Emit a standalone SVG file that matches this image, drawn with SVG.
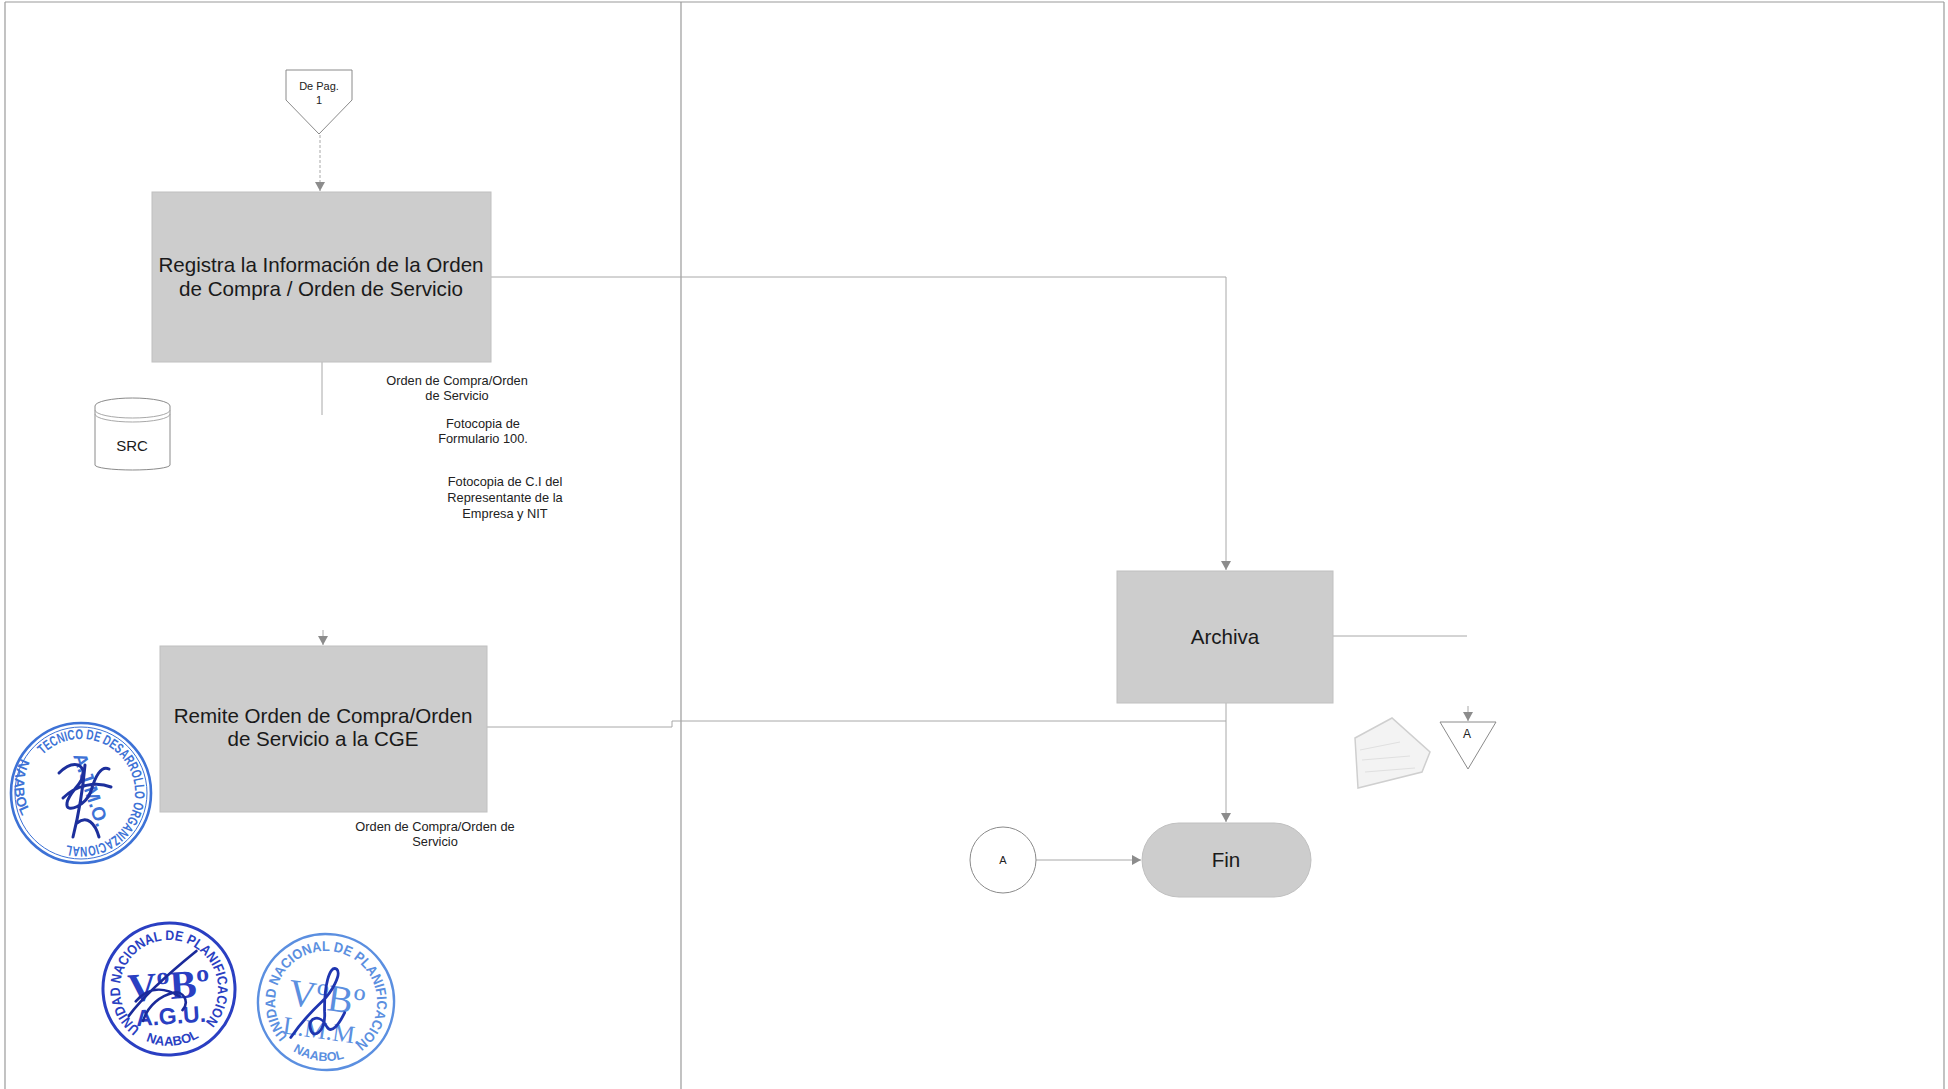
<svg xmlns="http://www.w3.org/2000/svg" width="1948" height="1089" viewBox="0 0 1948 1089">
  <defs>
    <style>
      .frame { stroke: #9a9a9a; stroke-width: 1.2; fill: none; }
      .conn { stroke: #a8a8a8; stroke-width: 1; fill: none; }
      .task { fill: #cdcdcd; stroke: #c0c0c0; stroke-width: 1; }
      .shape { fill: #ffffff; stroke: #8a8a8a; stroke-width: 1; }
      .big { font-family: "Liberation Sans", Arial, sans-serif; font-size: 20.6px; fill: #1a1a1a; text-anchor: middle; }
      .small { font-family: "Liberation Sans", Arial, sans-serif; font-size: 12.8px; fill: #222222; text-anchor: middle; }
      .tiny { font-family: "Liberation Sans", Arial, sans-serif; font-size: 11px; fill: #222222; text-anchor: middle; }
      .stampTxt { font-family: "Liberation Sans", Arial, sans-serif; font-weight: bold; }
    </style>
    <marker id="arr" markerUnits="userSpaceOnUse" markerWidth="11" markerHeight="11" refX="9" refY="5" orient="auto">
      <path d="M0,0 L9,5 L0,10 Z" fill="#8c8c8c"/>
    </marker>
  </defs>

  <rect width="1948" height="1089" fill="#ffffff"/>

  <!-- page frame and lane divider -->
  <g id="frame">
    <line class="frame" x1="5" y1="2" x2="1944" y2="2"/>
    <line class="frame" x1="5" y1="2" x2="5" y2="1089"/>
    <line class="frame" x1="1944" y1="2" x2="1944" y2="1089" stroke="#c8c8c8"/>
    <line class="frame" x1="681" y1="2" x2="681" y2="1089"/>
  </g>

  <!-- connectors -->
  <g id="connectors">
    <path class="conn" d="M320,135 L320,191" stroke-dasharray="3 2" marker-end="url(#arr)"/>
    <path class="conn" d="M322,362 L322,415"/>
    <path class="conn" d="M323,630 L323,645" marker-end="url(#arr)"/>
    <path class="conn" d="M491,277 L1226,277 L1226,570" marker-end="url(#arr)"/>
    <path class="conn" d="M487,727 L672,727 L672,721 L1226,721"/>
    <path class="conn" d="M1226,703 L1226,822" marker-end="url(#arr)"/>
    <path class="conn" d="M1333,636 L1467,636"/>
    <path class="conn" d="M1468,706 L1468,721" marker-end="url(#arr)"/>
    <path class="conn" d="M1036,860 L1141,860" marker-end="url(#arr)"/>
  </g>

  <!-- off-page connector from page 1 -->
  <g id="de-pag">
    <polygon class="shape" points="286,70 352,70 352,100 319,134 286,100"/>
    <text class="tiny" x="319" y="90">De Pag.</text>
    <text class="tiny" x="319" y="104">1</text>
  </g>

  <g id="registra">
    <rect class="task" x="152" y="192" width="339" height="170"/>
    <text class="big" x="321" y="272">Registra la Información de la Orden</text>
    <text class="big" x="321" y="296">de Compra / Orden de Servicio</text>
  </g>

  <g id="docs-registra">
    <text class="small" x="457" y="385">Orden de Compra/Orden</text>
    <text class="small" x="457" y="400">de Servicio</text>
    <text class="small" x="483" y="428">Fotocopia de</text>
    <text class="small" x="483" y="443">Formulario 100.</text>
    <text class="small" x="505" y="486">Fotocopia de C.I del</text>
    <text class="small" x="505" y="502">Representante de la</text>
    <text class="small" x="505" y="518">Empresa y NIT</text>
  </g>

  <!-- SRC data store -->
  <g id="src">
    <path class="shape" d="M95,406 A37.5,8 0 0 1 170,406 L170,465 A37.5,5 0 0 1 95,465 Z"/>
    <path class="conn" d="M95,410 A37.5,8 0 0 0 170,410 M95,414 A37.5,8 0 0 0 170,414" stroke="#8a8a8a"/>
    <text class="big" x="132" y="451" style="font-size:15px">SRC</text>
  </g>

  <g id="remite">
    <rect class="task" x="160" y="646" width="327" height="166"/>
    <text class="big" x="323" y="723">Remite Orden de Compra/Orden</text>
    <text class="big" x="323" y="746">de Servicio a la CGE</text>
  </g>

  <g id="docs-remite">
    <text class="small" x="435" y="831">Orden de Compra/Orden de</text>
    <text class="small" x="435" y="846">Servicio</text>
  </g>

  <g id="archiva">
    <rect class="task" x="1117" y="571" width="216" height="132"/>
    <text class="big" x="1225" y="644">Archiva</text>
  </g>

  <!-- archived document -->
  <g id="archivo">
    <polygon points="1355,738 1392,718 1430,752 1422,772 1358,788" fill="#f3f3f3" stroke="#cfcfcf" stroke-width="1.5"/>
    <path d="M1360,750 L1400,742 M1362,760 L1410,756 M1365,772 L1415,768" stroke="#e0e0e0" stroke-width="1" fill="none"/>
  </g>

  <g id="conector-a-salida">
    <polygon class="shape" points="1440,722 1496,722 1468,769"/>
    <text class="tiny" x="1467" y="738" style="font-size:12px">A</text>
  </g>

  <g id="conector-a-entrada">
    <circle class="shape" cx="1003" cy="860" r="33" stroke="#a0a0a0"/>
    <text class="tiny" x="1003" y="864">A</text>
  </g>

  <g id="fin">
    <rect class="task" x="1142" y="823" width="169" height="74" rx="37" stroke="#7a7a7a"/>
    <text class="big" x="1226" y="867">Fin</text>
  </g>

  <!-- approval stamps -->
  <g id="sello-tecnico" transform="translate(81,793)" fill="#3d72d6" stroke="#3d72d6">
    <circle r="70" fill="none" stroke-width="2.6"/>
    <circle r="66" fill="none" stroke-width="1"/>
    <path id="arcTec" d="M-38.2,-38.2 A54,54 0 1 1 -18.5,50.7" fill="none" stroke="none"/>
    <text class="stampTxt" font-size="14" stroke="none"><textPath href="#arcTec" textLength="226" lengthAdjust="spacingAndGlyphs">TECNICO DE DESARROLLO ORGANIZACIONAL</textPath></text>
    <path id="arcNaa" d="M-59.9,-34.6 A62,62 0 0 0 -53.7,31" fill="none" stroke="none"/>
    <text class="stampTxt" font-size="14" stroke="none"><textPath href="#arcNaa">NAABOL</textPath></text>
    <text class="stampTxt" font-size="19" stroke="none" text-anchor="middle" transform="rotate(72) translate(0,-4)">A.J.M.O.</text>
    <path d="M-22,-20 C-10,-32 0,-30 2,-22 C4,-10 -12,-2 -14,10 C-16,22 6,12 10,-2 C14,-16 20,-28 28,-24 M-18,5 C-5,-8 15,-12 30,-6 M4,-28 C2,-5 -2,20 -8,44 M-4,30 C6,22 14,30 18,44" fill="none" stroke="#1c2f9c" stroke-width="3" stroke-linecap="round"/>
  </g>

  <g id="sello-agu" transform="translate(169,989) rotate(-4)" fill="#2a3fc2" stroke="#2a3fc2">
    <circle r="66" fill="none" stroke-width="3"/>
    <path id="arcUnp1" d="M-31.5,37.5 A49,49 0 1 1 31.5,37.5" fill="none" stroke="none"/>
    <text class="stampTxt" font-size="14" stroke="none"><textPath href="#arcUnp1" textLength="236" lengthAdjust="spacingAndGlyphs">UNIDAD NACIONAL DE PLANIFICACION</textPath></text>
    <path id="arcNaa2" d="M-24,51.5 A57,57 0 0 0 24,51.5" fill="none" stroke="none"/>
    <text class="stampTxt" font-size="13" stroke="none" text-anchor="middle"><textPath href="#arcNaa2" startOffset="50%">NAABOL</textPath></text>
    <text font-family="Liberation Serif, serif" font-weight="bold" font-size="40" stroke="none" text-anchor="middle" x="0" y="10">VºBº</text>
    <text class="stampTxt" font-size="23" stroke="none" text-anchor="middle" x="0" y="35">A.G.U.</text>
    <path d="M-42,24 C-30,10 -10,-8 30,-36 M-28,30 C-22,14 -8,6 4,4 C14,2 20,14 12,22 M-34,10 C-20,-4 -4,-2 10,8" fill="none" stroke="#1a2a9a" stroke-width="2.6" stroke-linecap="round"/>
  </g>

  <g id="sello-lmm" transform="translate(326,1002) rotate(8)" fill="#5b8fe0" stroke="#5b8fe0">
    <circle r="68" fill="none" stroke-width="2.4"/>
    <path id="arcUnp2" d="M-32.8,39 A51,51 0 1 1 32.8,39" fill="none" stroke="none"/>
    <text class="stampTxt" font-size="14" stroke="none"><textPath href="#arcUnp2" textLength="246" lengthAdjust="spacingAndGlyphs">UNIDAD NACIONAL DE PLANIFICACION</textPath></text>
    <path id="arcNaa3" d="M-25,53.5 A59,59 0 0 0 25,53.5" fill="none" stroke="none"/>
    <text class="stampTxt" font-size="12.5" stroke="none" text-anchor="middle"><textPath href="#arcNaa3" startOffset="50%">NAABOL</textPath></text>
    <text font-family="Liberation Serif, serif" font-size="38" stroke="none" text-anchor="middle" x="0" y="8">VºBº</text>
    <text font-family="Liberation Serif, serif" font-size="25" stroke="none" text-anchor="middle" x="0" y="37">L.M.M.</text>
    <path d="M-30,40 C-22,24 -12,10 -4,0 C4,-10 12,-30 6,-34 C-2,-38 -4,-14 0,10 C4,30 -8,40 -12,28 C-16,18 -4,12 4,24 C10,32 16,20 20,8" fill="none" stroke="#1e35b0" stroke-width="2.8" stroke-linecap="round"/>
  </g>
</svg>
